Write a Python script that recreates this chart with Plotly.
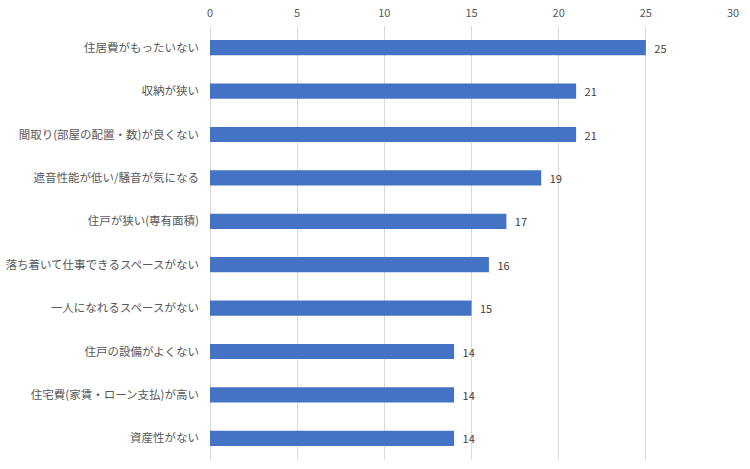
import plotly.graph_objects as go

categories = [
    "住居費がもったいない",
    "収納が狭い",
    "間取り(部屋の配置・数)が良くない",
    "遮音性能が低い/騒音が気になる",
    "住戸が狭い(専有面積)",
    "落ち着いて仕事できるスペースがない",
    "一人になれるスペースがない",
    "住戸の設備がよくない",
    "住宅費(家賃・ローン支払)が高い",
    "資産性がない",
]
values = [25, 21, 21, 19, 17, 16, 15, 14, 14, 14]
x_ticks = [0, 5, 10, 15, 20, 25, 30]

font_family = "Noto Sans CJK JP, Noto Sans, sans-serif"

fig = go.Figure(
    go.Bar(
        x=values,
        y=categories,
        orientation="h",
        marker=dict(color="#4472C4", line=dict(width=0)),
        width=0.35,
        text=["\u2002" + str(v) for v in values],
        textposition="outside",
        constraintext="none",
        textfont=dict(size=11, color="#404040", family=font_family),
        cliponaxis=False,
    )
)

fig.update_layout(
    width=750,
    height=469,
    margin=dict(l=210, r=17, t=26, b=9),
    paper_bgcolor="white",
    plot_bgcolor="white",
    showlegend=False,
    font=dict(family=font_family),
)
fig.update_xaxes(
    side="top",
    range=[0, 30],
    tickvals=x_ticks,
    showgrid=True,
    gridcolor="#d9d9d9",
    gridwidth=1,
    zeroline=True,
    zerolinecolor="#d9d9d9",
    zerolinewidth=1,
    showline=False,
    ticks="",
    ticklabelstandoff=6,
    automargin=False,
    tickfont=dict(size=11, color="#595959", family=font_family),
)
fig.update_yaxes(
    autorange="reversed",
    showgrid=False,
    showline=False,
    ticks="",
    ticklabelstandoff=10,
    automargin=False,
    tickfont=dict(size=11.5, color="#595959", family=font_family),
)

fig.write_html("out.html")
